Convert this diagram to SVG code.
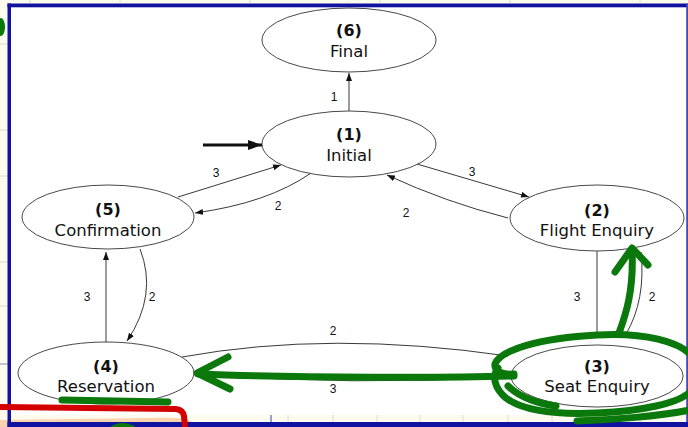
<svg xmlns="http://www.w3.org/2000/svg" width="688" height="427" viewBox="0 0 688 427">
<style>
.node ellipse{fill:#ffffff;stroke:#333333;stroke-width:0.9}
.t1{font-family:"DejaVu Sans",Verdana,sans-serif;font-size:16px;font-weight:bold;fill:#111;text-anchor:middle}
.t2{font-family:"DejaVu Sans",Verdana,sans-serif;font-size:16.5px;fill:#111;text-anchor:middle}
.lbl{font-family:"Liberation Sans",Arial,sans-serif;font-size:12px;fill:#111;text-anchor:middle}
.edge{fill:none;stroke:#222;stroke-width:0.9}
.grn{fill:none;stroke:#0a780a;stroke-width:7;stroke-linecap:round;stroke-linejoin:round}
.tick{stroke:#dcdcd0;stroke-width:1}
</style>
<defs>
<marker id="ah" markerWidth="8" markerHeight="6" refX="8" refY="3" orient="auto" markerUnits="userSpaceOnUse">
<path d="M0,0 L8,3 L0,6 Z" fill="#111"/>
</marker>
<marker id="ahBig" markerWidth="14" markerHeight="10" refX="14" refY="5" orient="auto" markerUnits="userSpaceOnUse">
<path d="M0,0 L14,5 L0,10 Z" fill="#111"/>
</marker>
</defs>

<!-- background / frame -->
<g id="frame">
<rect x="0" y="0" width="688" height="427" fill="#fdfbee"/>
<rect x="10" y="6" width="677" height="409" fill="#ffffff"/>
<line class="tick" x1="0" y1="44" x2="8" y2="44"/>
<line class="tick" x1="0" y1="130" x2="8" y2="130"/>
<line class="tick" x1="0" y1="176" x2="8" y2="176"/>
<line class="tick" x1="0" y1="262" x2="8" y2="262"/>
<line class="tick" x1="0" y1="306" x2="8" y2="306"/>
<line x1="0" y1="364" x2="8" y2="364" stroke="#8890a8" stroke-width="1"/>
<g class="tick">
<line x1="288" y1="415" x2="288" y2="422"/><line x1="333" y1="415" x2="333" y2="422"/>
<line x1="377" y1="415" x2="377" y2="422"/><line x1="420" y1="415" x2="420" y2="422"/>
<line x1="463" y1="415" x2="463" y2="422"/><line x1="508" y1="415" x2="508" y2="422"/>
<line x1="552" y1="415" x2="552" y2="422"/><line x1="597" y1="415" x2="597" y2="422"/>
<line x1="640" y1="415" x2="640" y2="422"/>
<line x1="30" y1="0" x2="30" y2="3"/><line x1="120" y1="0" x2="120" y2="3"/>
<line x1="250" y1="0" x2="250" y2="3"/><line x1="380" y1="0" x2="380" y2="3"/>
<line x1="510" y1="0" x2="510" y2="3"/><line x1="640" y1="0" x2="640" y2="3"/>
</g>
<line x1="271" y1="415" x2="271" y2="422" stroke="#3040a0" stroke-width="1"/>
<path d="M0,420 L150,418 Q185,417 192,422 L192,427 L0,427 Z" fill="#f8d3ae"/>
<rect x="7.5" y="3.5" width="3.5" height="423.5" fill="#1212a0"/>
<rect x="7.5" y="3.5" width="680.5" height="3.8" fill="#1212a0"/>
<rect x="686.2" y="3.5" width="1.8" height="423.5" fill="#4848b8"/>
<rect x="7.5" y="422" width="680.5" height="5" fill="#1212a0"/>
</g>

<!-- connectors -->
<g id="connectors">
<path class="edge" d="M349,111 L349,73" marker-end="url(#ah)"/>
<path d="M203,145 L262,145" fill="none" stroke="#111" stroke-width="3" marker-end="url(#ahBig)"/>
<path class="edge" d="M178,197 L281,165" marker-end="url(#ah)"/>
<path class="edge" d="M311,173 Q268,203 195,213" marker-end="url(#ah)"/>
<path class="edge" d="M417,164 L529,197" marker-end="url(#ah)"/>
<path class="edge" d="M508,218 Q445,202 387,175" marker-end="url(#ah)"/>
<path class="edge" d="M106,342 L106,252" marker-end="url(#ah)"/>
<path class="edge" d="M140,249 Q158,295 127,341" marker-end="url(#ah)"/>
<path class="edge" d="M182,357 Q330,330 508,356"/>
<path class="edge" d="M512,377 Q350,386 198,374"/>
<path class="edge" d="M597,251 L597,338"/>
<path class="edge" d="M626,334 Q646,300 641,252"/>
<text class="lbl" x="334" y="101">1</text>
<text class="lbl" x="216" y="177">3</text>
<text class="lbl" x="278" y="210">2</text>
<text class="lbl" x="472" y="176">3</text>
<text class="lbl" x="406" y="217">2</text>
<text class="lbl" x="87" y="301">3</text>
<text class="lbl" x="152" y="301">2</text>
<text class="lbl" x="333" y="335">2</text>
<text class="lbl" x="333" y="393">3</text>
<text class="lbl" x="577" y="301">3</text>
<text class="lbl" x="652" y="301">2</text>
</g>

<!-- nodes -->
<g id="n6" class="node"><ellipse cx="349" cy="40" rx="87" ry="32"/><text class="t1" x="349" y="36">(6)</text><text class="t2" x="349" y="57">Final</text></g>
<g id="n1" class="node"><ellipse cx="349" cy="144" rx="87" ry="33"/><text class="t1" x="349" y="140">(1)</text><text class="t2" x="349" y="161">Initial</text></g>
<g id="n5" class="node"><ellipse cx="108" cy="217" rx="86" ry="32"/><text class="t1" x="108" y="215">(5)</text><text class="t2" x="108" y="236">Confirmation</text></g>
<g id="n2" class="node"><ellipse cx="597" cy="218" rx="87" ry="33"/><text class="t1" x="597" y="216">(2)</text><text class="t2" x="597" y="236">Flight Enquiry</text></g>
<g id="n4" class="node"><ellipse cx="106" cy="373" rx="88" ry="31"/><text class="t1" x="106" y="372">(4)</text><text class="t2" x="106" y="392">Reservation</text></g>
<g id="n3" class="node"><ellipse cx="597" cy="376" rx="86" ry="31"/><text class="t1" x="597" y="372">(3)</text><text class="t2" x="597" y="392">Seat Enquiry</text></g>

<!-- hand-drawn annotations -->
<g id="annotations">
<path class="grn" d="M514,376 C450,378 300,378 198,374"/>
<path class="grn" d="M228,357 L197,373 L230,389"/>
<path class="grn" stroke-width="9" d="M514,374 C502,375 494,371 495,364 C500,350 540,338 597,335 C645,332 680,342 692,356"/>
<path class="grn" d="M692,390 C680,404 640,411 597,413 C552,415 522,410 506,398 C494,388 492,376 498,368"/>
<path class="grn" d="M556,406 C540,404 520,398 508,386"/>
<path class="grn" d="M577,421 C612,420 660,416 690,410"/>
<path class="grn" d="M619,333 C626,314 634,290 632,250"/>
<path class="grn" d="M615,272 L632,248 L648,265"/>
<path class="grn" stroke-width="6" d="M62,400 L168,402"/>
<ellipse cx="1" cy="27" rx="4" ry="9" fill="#0a780a"/>
<path d="M110,427 Q122,419 136,427 Z" fill="#0a780a"/>
<path d="M0,407 L176,409 Q183,410 184,416 L185,427" fill="none" stroke="#d40000" stroke-width="6"/>
</g>
</svg>
